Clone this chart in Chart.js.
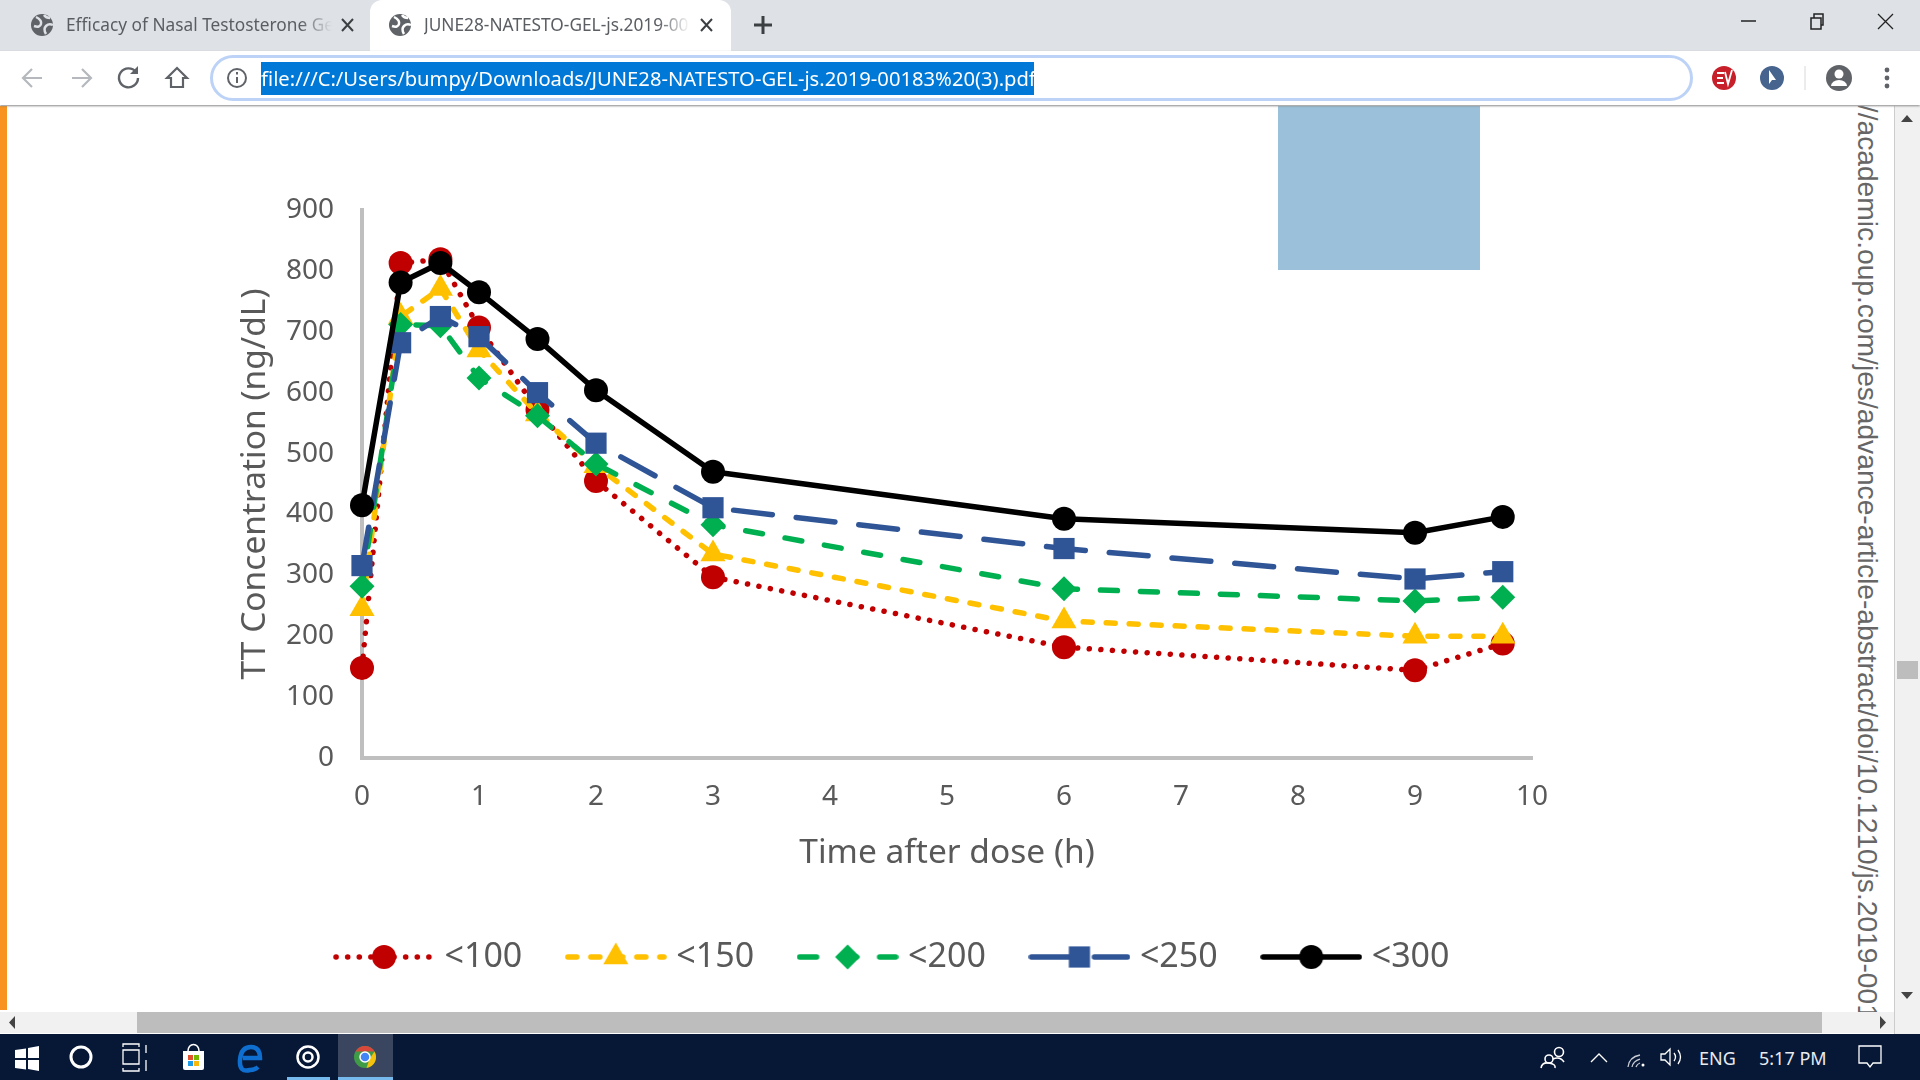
<!DOCTYPE html>
<html>
<head>
<meta charset="utf-8">
<title>TT Concentration</title>
<script src="https://cdn.jsdelivr.net/npm/chart.js@4"></script>
<style>
  html, body { margin: 0; padding: 0; width: 1920px; height: 1080px; overflow: hidden; background: #fff; font-family: "Noto Sans", sans-serif; }
  .abs { position: absolute; }
  svg { position: absolute; overflow: visible; }
  #tabstrip { left: 0; top: 0; width: 1920px; height: 51px; background: #dee1e6; }
  #tab2 { left: 370px; top: 0; width: 361px; height: 52px; background: #fff; border-radius: 12px 12px 0 0; }
  .tabtxt { top: 12px; font-size: 17.3px; line-height: 26px; color: #5a5e63; white-space: nowrap; overflow: hidden; -webkit-mask-image: linear-gradient(to right, #000 88%, transparent); }
  #toolbar { left: 0; top: 51px; width: 1920px; height: 54px; background: #fff; box-shadow: 0 1px 2px #888; z-index: 3; }
  #addr { left: 210px; top: 55px; width: 1477px; height: 40px; border: 3px solid #bcd2f6; border-radius: 23px; z-index: 4; }
  #url { left: 261px; top: 62px; width: 773px; height: 33px; background: #0078d7; color: #fff; font-size: 20.2px; line-height: 32px; white-space: nowrap; overflow: hidden; z-index: 5; }
  #strip { left: 0; top: 106px; width: 7px; height: 904px; background: #f7931e; }
  #bluebox { left: 1278px; top: 106px; width: 202px; height: 164px; background: #9bc0d9; }
  #sideclip { left: 1840px; top: 106px; width: 54px; height: 906px; overflow: hidden; }
  #sidetxt { left: 46px; top: -9px; font-family: "Liberation Sans", sans-serif; font-size: 28.2px; line-height: 36px; color: #666; white-space: nowrap; transform-origin: 0 0; transform: rotate(90deg); }
  #vbar { left: 1894px; top: 106px; width: 26px; height: 928px; background: #f1f1f1; border-left: 1px solid #ccc; box-sizing: border-box; }
  #vthumb { left: 1897px; top: 661px; width: 21px; height: 18px; background: #bdbdbd; }
  #hbar { left: 0; top: 1012px; width: 1894px; height: 21px; background: #f1f1f1; }
  #hthumb { left: 137px; top: 1012px; width: 1685px; height: 21px; background: #bdbdbd; }
  #taskbar { left: 0; top: 1034px; width: 1920px; height: 46px; background: #071736; color: #e8ebf0; }
  .tray { top: 1045px; font-size: 18px; line-height: 26px; color: #e8ebf0; white-space: nowrap; }
  #grafico { position: absolute; left: 7px; top: 106px; }
</style>
</head>
<body>

<!-- pagina do pdf -->
<div class="abs" id="strip"></div>
<div class="abs" id="bluebox"></div>
<canvas id="grafico" width="1625" height="878"></canvas>
<div class="abs" id="sideclip"><div class="abs" id="sidetxt">://academic.oup.com/jes/advance-article-abstract/doi/10.1210/js.2019-00183</div></div>

<!-- abas -->
<div class="abs" id="tabstrip"></div>
<div class="abs" id="tab2"></div>
<svg style="left:0;top:0" width="1920" height="106">
  <circle cx="42" cy="25" r="11" fill="#5f6368"/><path d="M36 17q6 3 5 7t-7 2M46 34q-3-5 0-8t7-1M44 15q2 3 6 3" fill="none" stroke="#dee1e6" stroke-width="2.5"/>
  <path d="M342 19l11 12M353 19l-11 12" stroke="#3c4043" stroke-width="2"/>
  <circle cx="400" cy="25" r="11" fill="#5f6368"/><path d="M394 17q6 3 5 7t-7 2M404 34q-3-5 0-8t7-1M402 15q2 3 6 3" fill="none" stroke="#fff" stroke-width="2.5"/>
  <path d="M701 19l11 12M712 19l-11 12" stroke="#3c4043" stroke-width="2"/>
  <path d="M763 16v18M754 25h18" stroke="#3c4043" stroke-width="3"/>
  <path d="M1741 21h15" stroke="#222" stroke-width="1.5"/>
  <path d="M1811 18h10v11h-10zM1814 18v-4h9v11h-2" fill="none" stroke="#222" stroke-width="1.5"/>
  <path d="M1878 14l15 15M1893 14l-15 15" stroke="#222" stroke-width="1.3"/>
</svg>
<div class="abs tabtxt" style="left:66px;width:266px">Efficacy of Nasal Testosterone Gel</div>
<div class="abs tabtxt" style="left:424px;width:266px">JUNE28-NATESTO-GEL-js.2019-00183</div>

<!-- barra de endereco -->
<div class="abs" id="toolbar"></div>
<div class="abs" id="addr"></div>
<div class="abs" id="url">file:///C:/Users/bumpy/Downloads/JUNE28-NATESTO-GEL-js.2019-00183%20(3).pdf</div>
<svg style="left:0;top:0;z-index:6" width="1920" height="106">
  <path d="M42 78H23M32 69l-9 9 9 9" fill="none" stroke="#b5b8bc" stroke-width="2.2"/>
  <path d="M72 78h19M82 69l9 9-9 9" fill="none" stroke="#b5b8bc" stroke-width="2.2"/>
  <path d="M136 72a9.5 9.5 0 1 0 2 6" fill="none" stroke="#5f6368" stroke-width="2.4"/><path d="M138 66v8h-8z" fill="#5f6368"/>
  <path d="M177 68l-10 10h4v9h12v-9h4z" fill="none" stroke="#5f6368" stroke-width="2.2"/>
  <circle cx="237" cy="78" r="9" fill="none" stroke="#5f6368" stroke-width="2"/><path d="M237 77v6M237 72v2.5" stroke="#5f6368" stroke-width="2"/>
  <circle cx="1724" cy="78" r="12" fill="#c8202a"/><path d="M1717 73h7M1717 78h6M1717 83h7M1725 72l3 12 4-14" fill="none" stroke="#fff" stroke-width="1.8"/>
  <circle cx="1772" cy="78" r="12" fill="#46648e"/><path d="M1769 70v14l3-4 4 0z" fill="#fff"/>
  <path d="M1805 66v24" stroke="#d8d8d8" stroke-width="1"/>
  <circle cx="1839" cy="78" r="13" fill="#5f6368"/><circle cx="1839" cy="74" r="4.5" fill="#fff"/><path d="M1831 86a8 6 0 0 1 16 0z" fill="#fff"/>
  <circle cx="1887" cy="70" r="2.4" fill="#5f6368"/><circle cx="1887" cy="78" r="2.4" fill="#5f6368"/><circle cx="1887" cy="86" r="2.4" fill="#5f6368"/>
</svg>

<!-- barras de rolagem -->
<div class="abs" id="vbar"></div>
<div class="abs" id="vthumb"></div>
<div class="abs" id="hbar"></div>
<div class="abs" id="hthumb"></div>
<svg style="left:0;top:0" width="1920" height="1040">
  <path d="M1901 122l6-7 6 7zM1901 992l6 7 6-7z" fill="#444"/>
  <path d="M15 1016v13l-6-6.5zM1880 1016v13l6-6.5z" fill="#444"/>
</svg>

<!-- barra de tarefas -->
<div class="abs" id="taskbar"></div>
<div class="abs" style="left:338px;top:1034px;width:55px;height:46px;background:#3a4660"></div>
<div class="abs" style="left:287px;top:1077px;width:43px;height:3px;background:#76b9ed"></div>
<div class="abs" style="left:338px;top:1077px;width:55px;height:3px;background:#76b9ed"></div>
<svg style="left:0;top:0" width="1920" height="1080">
  <path d="M15 1050l11-1.5v9.5H15zM28 1048l11-2v12H28zM15 1060h11v9.5l-11-1.5zM28 1060h11v11l-11-2z" fill="#fff"/>
  <circle cx="81" cy="1057" r="10" fill="none" stroke="#fff" stroke-width="3"/>
  <path d="M123 1050h16v14h-16zM123 1047v-3h16v3M123 1068v3h16v-3M146 1045v8M146 1060v11" fill="none" stroke="#fff" stroke-width="1.3"/>
  <path d="M183 1051h21v17a2 2 0 0 1-2 2h-17a2 2 0 0 1-2-2z" fill="#fff"/><path d="M188 1051a5 6 0 0 1 11 0" fill="none" stroke="#fff" stroke-width="1.5"/>
  <rect x="188" y="1055" width="5" height="5" fill="#e2522e"/><rect x="194" y="1055" width="5" height="5" fill="#76b900"/><rect x="188" y="1061" width="5" height="5" fill="#1c9ce8"/><rect x="194" y="1061" width="5" height="5" fill="#fbb80c"/>
  <path d="M243 1058h17q0-11-9-11-10 0-11 13t10 10q5 0 8-3" fill="none" stroke="#0f6fd0" stroke-width="4.5"/>
  <circle cx="308" cy="1057" r="10.5" fill="none" stroke="#fff" stroke-width="2.5"/><circle cx="308" cy="1057" r="4.5" fill="none" stroke="#fff" stroke-width="2.5"/>
  <circle cx="365" cy="1057" r="11" fill="#3f9c46"/><path d="M365 1046a11 11 0 0 1 9.5 5.5h-19a11 11 0 0 1 9.5-5.5z" fill="#d9483b"/><path d="M374.500 1051.500a11 11 0 0 1-8 16.500l3-9z" fill="#f4c20d"/><circle cx="365" cy="1057" r="5" fill="#4285f4" stroke="#fff" stroke-width="1.5"/>
  <circle cx="1559" cy="1052" r="4.500" fill="none" stroke="#fff" stroke-width="1.600"/><circle cx="1549" cy="1059" r="4" fill="none" stroke="#fff" stroke-width="1.600"/><path d="M1541 1068q1-6 8-5t6 5M1553 1059q7-3 11 3" fill="none" stroke="#fff" stroke-width="1.600"/>
  <path d="M1591 1062l8-8 8 8" fill="none" stroke="#fff" stroke-width="1.300"/>
  <path d="M1628 1067q1-10 12-12M1632 1067q1-6 8-8M1636 1067q1-3 4-4" fill="none" stroke="#c8ccd4" stroke-width="1.300"/><circle cx="1643" cy="1065" r="1.500" fill="#fff"/>
  <path d="M1661 1054h4l5-5v16l-5-5h-4zM1674 1053q3 4 0 8M1678 1050q5 7 0 14" fill="none" stroke="#fff" stroke-width="1.300"/>
  <path d="M1859 1046h22v17h-8l-3 4-3-4h-8z" fill="none" stroke="#fff" stroke-width="1.300"/>
</svg>
<div class="abs tray" style="left:1699px">ENG</div>
<div class="abs tray" style="left:1759px">5:17 PM</div>

<script>
// ================= DADOS =================
const horas = [0, 0.33, 0.67, 1, 1.5, 2, 3, 6, 9, 9.75];

const menor100 = [148, 813, 819, 707, 572, 455, 297, 182, 144, 188];
const menor150 = [245, 725, 771, 670, 565, 480, 335, 225, 200, 200];
const menor200 = [282, 712, 710, 624, 562, 483, 383, 278, 258, 264];
const menor250 = [316, 682, 725, 692, 600, 517, 411, 344, 294, 306];
const menor300 = [415, 781, 813, 765, 688, 604, 470, 393, 370, 396];

const nomes = ["<100", "<150", "<200", "<250", "<300"];
const ticksX = [0, 1, 2, 3, 4, 5, 6, 7, 8, 9, 10];
const ticksY = [0, 100, 200, 300, 400, 500, 600, 700, 800, 900];

// ================= DATASETS =================
const pontos = valores => valores.map((v, i) => ({ x: horas[i], y: v }));

const serie = (nome, valores, cor, dash, estilo, raio, ordem) => ({
  label: nome,
  data: pontos(valores),
  borderColor: cor,
  backgroundColor: cor,
  pointBackgroundColor: cor,
  pointBorderColor: cor,
  borderWidth: 5.5,
  borderDash: dash,
  borderCapStyle: "round",
  borderJoinStyle: "round",
  pointStyle: estilo,
  pointRadius: raio,
  pointBorderWidth: 0,
  tension: 0,
  clip: false,
  order: ordem
});

const datasets = [
  serie(nomes[0], menor100, "#c00000", [0.1, 11.5], "circle", 12, 5),
  serie(nomes[1], menor150, "#ffc000", [9, 14], "triangle", 14.5, 4),
  serie(nomes[2], menor200, "#00b050", [17, 23], "rectRot", 12.5, 3),
  serie(nomes[3], menor250, "#2f5597", [39, 24], "rect", 15, 2),
  serie(nomes[4], menor300, "#000000", [], "circle", 12, 1)
];

// ================= AMOSTRA DA LEGENDA =================
function amostra(ds) {
  const c = document.createElement("canvas");
  c.width = 102;
  c.height = 36;
  const g = c.getContext("2d");
  g.strokeStyle = ds.borderColor;
  g.fillStyle = ds.borderColor;
  g.lineWidth = ds.borderWidth;
  g.lineCap = "round";
  g.setLineDash(ds.borderDash);
  g.beginPath();
  g.moveTo(3, 18);
  g.lineTo(99, 18);
  g.stroke();
  g.setLineDash([]);
  Chart.helpers.drawPoint(g, { pointStyle: ds.pointStyle, radius: ds.pointRadius, rotation: 0, borderWidth: 0 }, 51, 18);
  return c;
}

const amostras = datasets.map(amostra);

// ================= GRÁFICO =================
const corTexto = "#595959";
const ctx = document.getElementById("grafico").getContext("2d");

new Chart(ctx, {
  type: "line",
  data: { datasets },
  options: {
    responsive: false,
    animation: false,
    // o padding esquerdo centraliza a legenda embaixo do eixo, como no original
    layout: { padding: { top: 104, left: 251, right: 100, bottom: 0 } },
    plugins: {
      tooltip: { enabled: false },
      legend: {
        position: "bottom",
        labels: {
          usePointStyle: true,
          pointStyleWidth: 87,
          padding: 50,
          color: corTexto,
          font: { family: "Noto Sans", size: 34 },
          generateLabels: chart => {
            const itens = Chart.defaults.plugins.legend.labels.generateLabels(chart);
            itens.sort((a, b) => a.datasetIndex - b.datasetIndex);
            itens.forEach(it => { it.pointStyle = amostras[it.datasetIndex]; });
            return itens;
          }
        }
      }
    },
    scales: {
      x: {
        type: "linear",
        min: 0,
        max: 10,
        afterFit: s => { s.height = 132; },
        afterBuildTicks: s => { s.ticks = ticksX.map(v => ({ value: v })); },
        grid: { display: false, drawTicks: false },
        border: { display: true, color: "#bfbfbf", width: 4 },
        ticks: { padding: 22, color: corTexto, font: { family: "Noto Sans", size: 28 }, maxRotation: 0, autoSkip: false },
        title: { display: true, text: "Time after dose (h)", color: corTexto, font: { family: "Noto Sans", size: 33.5 }, padding: { top: 0, bottom: 16 } }
      },
      y: {
        min: 0,
        max: 900,
        afterFit: s => { s.width = 104; },
        afterBuildTicks: s => { s.ticks = ticksY.map(v => ({ value: v })); },
        grid: { display: false, drawTicks: false },
        border: { display: true, color: "#bfbfbf", width: 4 },
        ticks: { padding: 28, color: corTexto, font: { family: "Noto Sans", size: 28 }, autoSkip: false },
        title: { display: true, text: "TT Concentration (ng/dL)", color: corTexto, font: { family: "Noto Sans", size: 33.5 }, padding: { top: -23, bottom: 0 } }
      }
    }
  }
});
</script>
</body>
</html>
